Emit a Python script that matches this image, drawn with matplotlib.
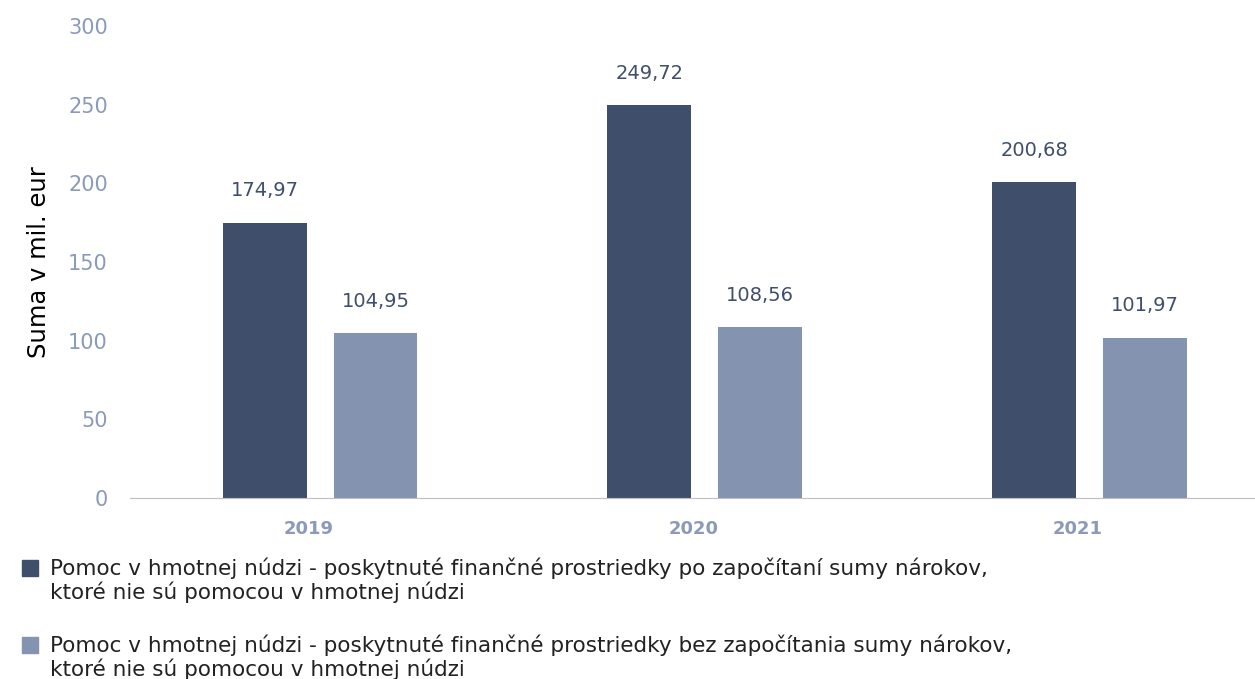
import matplotlib
matplotlib.use('Agg')
import matplotlib.pyplot as plt
from matplotlib.patches import Rectangle
import numpy as np

years = ['2019', '2020', '2021']
po_zapocitani = [174.97, 249.72, 200.68]
bez_zapocitania = [104.95, 108.56, 101.97]
labels = ['Pomoc v hmotnej núdzi - poskytnuté finančné prostriedky po započítaní sumy nárokov,\nktoré nie sú pomocou v hmotnej núdzi',
          'Pomoc v hmotnej núdzi - poskytnuté finančné prostriedky bez započítania sumy nárokov,\nktoré nie sú pomocou v hmotnej núdzi']

dark = '#3F4E6B'
light = '#8393B0'
tick_col = '#8A9AB8'

plt.rcParams['font.family'] = ['DejaVu Sans']

W, H = 1255, 679
fig = plt.figure(figsize=(W / 100, H / 100), dpi=100)
ax = fig.add_axes([0.1036, 0.2666, 0.8964, 0.6951])

x = np.arange(len(years))
w = 0.218
b1 = ax.bar(x - 0.144, po_zapocitani, w, color=dark)
b2 = ax.bar(x + 0.144, bez_zapocitania, w, color=light)

for bars, vals in ((b1, po_zapocitani), (b2, bez_zapocitania)):
    for r, v in zip(bars, vals):
        ax.annotate(f'{v:.2f}'.replace('.', ','), (r.get_x() + r.get_width() / 2, v),
                    xytext=(0, 16), textcoords='offset points', ha='center', va='bottom',
                    fontsize=14, color=dark)

ax.set_xlim(-0.494, 2.43)
ax.set_ylim(0, 300)
ax.set_yticks(range(0, 301, 50))
ax.set_xticks(x - 0.03)
ax.set_xticklabels(years, fontsize=13, fontweight='bold', color=tick_col)
ax.tick_params(axis='y', labelsize=15, labelcolor=tick_col, length=0, pad=16)
ax.tick_params(axis='x', length=0, pad=16)
for s in ('top', 'right', 'left'):
    ax.spines[s].set_visible(False)
ax.spines['bottom'].set_color('#BFBFBF')
ax.set_ylabel('Suma v mil. eur', fontsize=17.5, color='black', labelpad=12)

# legend drawn by hand so the square lines up with the first text line
for i, (lab, col) in enumerate(zip(labels, [dark, light])):
    y0 = 568 + i * 77
    fig.patches.append(Rectangle((22 / W, 1 - (y0 + 8) / H), 16 / W, 16 / H,
                                 transform=fig.transFigure, color=col))
    for j, line in enumerate(lab.split('\n')):
        fig.text(50 / W, 1 - (y0 + j * 24) / H, line, fontsize=15.5, color='#222222',
                 va='center', ha='left')

fig.savefig('out.png', dpi=100)
